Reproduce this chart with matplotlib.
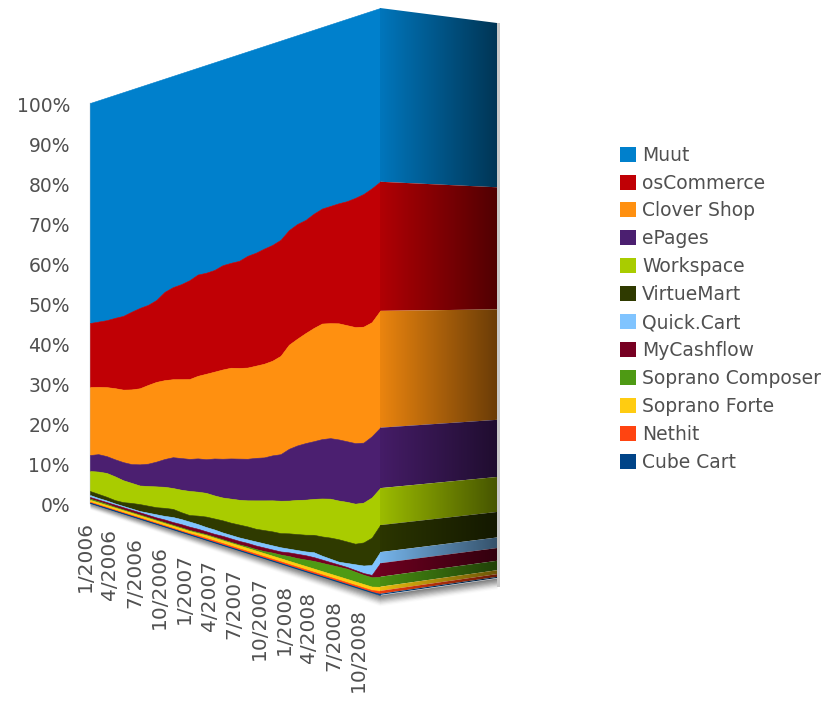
import numpy as np
import matplotlib
matplotlib.use("Agg")
import matplotlib.pyplot as plt
from matplotlib.patches import Patch, Polygon

# shares in percent, one value per month from 1/2006 to 12/2008
muut = [55.0,54.6,54.2,53.6,53.1,52.1,51.2,50.5,49.4,47.6,46.6,46.0,45.2,44.1,43.8,43.3,42.4,42.0,41.7,40.8,40.3,39.6,39.0,38.1,36.4,35.4,34.8,33.8,33.0,32.7,32.4,32.2,31.8,31.3,30.5,29.6]
oscommerce = [16.0,16.1,16.3,16.9,17.5,18.2,18.6,18.3,18.5,19.7,20.3,20.7,21.3,21.6,21.3,21.2,21.5,21.4,21.6,22.3,22.3,22.5,22.4,22.2,21.7,21.5,21.0,21.0,20.9,21.1,21.4,21.9,22.6,23.0,23.0,22.0]
clover = [17.0,16.6,16.8,17.1,17.2,17.5,17.6,18.0,18.0,17.6,17.2,17.2,17.2,17.6,18.0,18.1,18.4,18.5,18.3,18.2,18.2,18.3,18.3,18.8,19.7,20.0,20.4,20.8,21.0,20.7,20.7,20.5,20.3,20.1,19.6,19.9]
epages = [4.0,4.3,4.1,4.1,4.3,4.4,4.9,5.1,5.6,6.2,6.8,6.9,6.9,7.1,7.1,7.7,8.0,8.2,8.3,8.3,8.4,8.4,8.7,8.9,9.8,10.2,10.5,10.6,10.8,10.9,10.9,10.7,10.6,10.4,10.5,10.3]
workspace = [5.0,5.5,5.8,5.7,5.2,4.7,4.3,4.5,4.7,4.7,4.6,4.9,5.2,5.1,5.0,4.8,4.7,4.9,5.0,5.2,5.6,5.8,6.0,6.2,6.2,6.4,6.5,6.6,6.9,7.0,6.9,7.0,7.0,6.9,6.9,6.3]
virtuemart = [1.0,1.0,0.9,0.8,0.9,1.3,1.6,1.6,1.6,1.8,1.8,1.5,1.4,1.8,2.2,2.3,2.5,2.5,2.6,2.6,2.5,2.6,2.7,2.7,2.9,3.0,3.1,3.2,3.5,3.8,4.0,3.8,3.6,4.0,4.7,4.6]
quickcart = [0.5,0.4,0.4,0.3,0.3,0.3,0.3,0.5,0.7,0.8,1.1,1.1,1.1,1.0,0.9,0.9,0.7,0.7,0.7,0.7,0.8,0.8,0.8,0.8,0.7,0.7,0.7,0.9,0.7,0.6,0.5,0.7,1.0,1.3,1.7,1.9]
mycashflow = [0.4,0.4,0.4,0.5,0.5,0.5,0.5,0.5,0.5,0.6,0.6,0.7,0.7,0.7,0.6,0.6,0.7,0.7,0.7,0.7,0.7,0.7,0.6,0.6,0.7,0.8,0.8,0.7,0.6,0.5,0.4,0.3,0.3,0.3,0.4,2.3]
composer = [0.3,0.3,0.3,0.2,0.2,0.2,0.2,0.2,0.2,0.2,0.2,0.2,0.2,0.2,0.2,0.2,0.2,0.2,0.2,0.3,0.3,0.4,0.6,0.7,0.9,1.0,1.2,1.4,1.5,1.6,1.7,1.8,1.7,1.6,1.6,1.7]
forte = [0.5,0.5,0.5,0.5,0.5,0.5,0.5,0.5,0.5,0.5,0.5,0.5,0.5,0.5,0.6,0.6,0.6,0.6,0.6,0.6,0.6,0.6,0.6,0.6,0.6,0.6,0.6,0.6,0.6,0.6,0.6,0.6,0.6,0.6,0.6,0.7]
nethit = [0.2,0.2,0.2,0.2,0.2,0.2,0.2,0.2,0.2,0.2,0.2,0.2,0.2,0.3,0.3,0.3,0.3,0.3,0.3,0.3,0.3,0.3,0.3,0.3,0.3,0.3,0.3,0.3,0.3,0.3,0.3,0.3,0.3,0.3,0.3,0.5]
cubecart = [0.1,0.1,0.1,0.1,0.1,0.1,0.1,0.1,0.1,0.1,0.1,0.1,0.1,0.1,0.1,0.1,0.1,0.1,0.1,0.1,0.1,0.1,0.1,0.1,0.1,0.1,0.1,0.1,0.1,0.1,0.1,0.1,0.1,0.1,0.1,0.2]

names = ["Muut", "osCommerce", "Clover Shop", "ePages", "Workspace", "VirtueMart",
         "Quick.Cart", "MyCashflow", "Soprano Composer", "Soprano Forte", "Nethit", "Cube Cart"]
colors = ["#0080CC", "#C00005", "#FF9010", "#4B1F70", "#A9CC00", "#2F3A00",
          "#80C4FF", "#770022", "#4E9A14", "#FFCC11", "#FF4411", "#004488"]
y_ticks = [0, 10, 20, 30, 40, 50, 60, 70, 80, 90, 100]
x_labels = ["1/2006", "4/2006", "7/2006", "10/2006", "1/2007", "4/2007",
            "7/2007", "10/2007", "1/2008", "4/2008", "7/2008", "10/2008"]
x_label_months = [0, 3, 6, 9, 12, 15, 18, 21, 24, 27, 30, 33]

# the picture is a fake 3d box, so everything goes through these two projections
LEFT, CORNER, BACK = 90, 380, 497
N_MONTHS = len(muut)


def front_x(m):
    return LEFT + (CORNER - LEFT) * np.asarray(m, dtype=float) / (N_MONTHS - 1)


def front_y(m, pct):
    t = np.asarray(m, dtype=float) / (N_MONTHS - 1)
    base = 503 + 92 * t
    top = 103 - 95 * t
    return base + (top - base) * np.asarray(pct, dtype=float) / 100


def side_y(t, pct):
    base = 595 - 17 * t
    top = 8 + 15 * t
    return base + (top - base) * np.asarray(pct, dtype=float) / 100


series = np.array([muut, oscommerce, clover, epages, workspace, virtuemart,
                   quickcart, mycashflow, composer, forte, nethit, cubecart])
series = series / series.sum(axis=0) * 100
# stack from the bottom of the list upwards
upper = np.cumsum(series[::-1], axis=0)[::-1]
lower = upper - series

months = np.arange(N_MONTHS)

fig = plt.figure(figsize=(8.27, 7.02), dpi=100)
ax = fig.add_axes([0, 0, 1, 1])

# soft shadow under the box
for i in range(1, 10):
    alpha = 0.30 * (1 - i / 10)
    grow = i * (0.7 + 0.5 * months / (N_MONTHS - 1))
    ax.fill_between(front_x(months), front_y(months, 0), front_y(months, 0) + grow,
                    color="#666666", alpha=alpha, lw=0)
    sx = np.array([CORNER, BACK])
    ax.fill_between(sx, side_y(np.array([0, 1]), 0),
                    side_y(np.array([0, 1]), 0) + i * 1.2,
                    color="#666666", alpha=alpha, lw=0)

# front face
for i, name in enumerate(names):
    ax.fill_between(front_x(months), front_y(months, lower[i]), front_y(months, upper[i]),
                    color=colors[i], lw=0.4, zorder=3)

# side face, same end values carried to the back edge and darkened
shade = np.linspace(0.92, 0.42, 120)
for i, name in enumerate(names):
    rgb = np.array(matplotlib.colors.to_rgb(colors[i]))
    grad = (rgb[None, :] * shade[:, None])[None, :, :]
    pts = [(CORNER, side_y(0, lower[i][-1])), (CORNER, side_y(0, upper[i][-1])),
           (BACK, side_y(1, upper[i][-1])), (BACK, side_y(1, lower[i][-1]))]
    clip = Polygon(pts, closed=True, transform=ax.transData, fc="none", ec="none")
    ax.add_patch(clip)
    im = ax.imshow(grad, extent=(CORNER, BACK, 600, 0), aspect="auto",
                   interpolation="bilinear", zorder=3)
    im.set_clip_path(clip)

# thin pale edges at the left and back of the box
ax.plot([LEFT - 0.5, LEFT - 0.5], [front_y(0, 0), front_y(0, 100)], color="#b8c4cc", lw=1, zorder=2)
ax.fill_betweenx([side_y(1, 100), side_y(1, 0) + 9], BACK, BACK + 2.5, color="#c8c8c8", lw=0, zorder=2)

# ticks
for v in y_ticks:
    ax.text(70, front_y(0, v) + 3, f"{v}%", ha="right", va="center", fontsize=13.5, color="#505050")

for m, lab in zip(x_label_months, x_labels):
    ax.text(front_x(m) - 5, front_y(m, 0) + 18, lab, rotation=90, ha="center", va="top",
            fontsize=14.5, color="#505050")

handles = [Patch(facecolor=c, edgecolor="none", label=n) for c, n in zip(colors, names)]
ax.legend(handles=handles, loc="upper left", bbox_to_anchor=(614, 140),
          bbox_transform=ax.transData, frameon=False, fontsize=13.5, labelcolor="#505050",
          handlelength=0.85, handleheight=0.85, handletextpad=0.35, labelspacing=0.475,
          borderpad=0.3, borderaxespad=0)

ax.set_xlim(0, 827)
ax.set_ylim(702, 0)
ax.axis("off")

plt.savefig("out.png", dpi=100)
